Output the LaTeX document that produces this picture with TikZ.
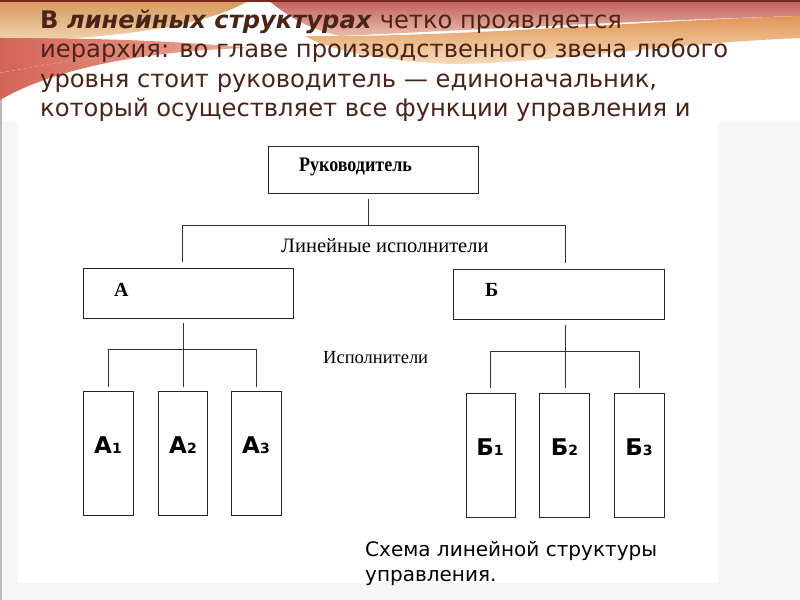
\documentclass[tikz,border=0pt]{standalone}
\usepackage{fontspec}
\setmainfont{DejaVu Sans}
\newfontfamily\serifF{Liberation Serif}
\newfontfamily\labF{DejaVu Sans}
\definecolor{titlec}{RGB}{75,36,24}
\definecolor{tanA}{RGB}{214,150,92}
\definecolor{tanB}{RGB}{242,214,178}
\definecolor{redA}{RGB}{212,100,88}
\definecolor{redB}{RGB}{236,170,150}
\definecolor{pinkA}{RGB}{192,92,92}
\definecolor{pinkB}{RGB}{236,190,170}
\definecolor{orA}{RGB}{226,150,88}
\definecolor{orB}{RGB}{246,218,186}
\definecolor{topline}{RGB}{120,40,28}
\definecolor{bgr}{RGB}{246,246,246}
\begin{document}
\begin{tikzpicture}[x=1bp,y=-1bp,
  box/.style={draw=black!85, line width=0.9bp, fill=white, inner sep=0pt},
  conn/.style={draw=black!80, line width=0.8bp},
  titletext/.style={anchor=base west, inner sep=0pt, text=titlec, font=\fontsize{24.2bp}{29bp}\selectfont},
  captext/.style={anchor=base west, inner sep=0pt, text=black, font=\fontsize{20bp}{25bp}\selectfont},
  boldser/.style={anchor=base west, inner sep=0pt, font=\serifF\bfseries\fontsize{18bp}{20bp}\selectfont},
  bigser/.style={anchor=base west, inner sep=0pt, font=\serifF\bfseries\fontsize{20bp}{22bp}\selectfont},
  regser/.style={anchor=base west, inner sep=0pt, font=\serifF\fontsize{18.5bp}{20bp}\selectfont},
  sublab/.style={anchor=base, inner sep=0pt, font=\labF\bfseries\fontsize{23bp}{24bp}\selectfont}
]
\useasboundingbox (0,0) rectangle (800,600);
% background
\fill[white] (0,0) rectangle (800,600);
\fill[bgr] (0,122) rectangle (800,600);
\fill[white] (18,122) rectangle (718,583);
\draw[gray!55, line width=1.5bp] (1,0) -- (1,600);
% decoration
\shade[top color=tanA, bottom color=tanB] (0,0) -- (250,0) .. controls (210,24) and (130,38) .. (0,42) -- cycle;
\shade[left color=redA, right color=redB] (0,38) .. controls (80,38) and (170,40) .. (250,48) .. controls (160,50) and (60,65) .. (0,100) -- cycle;
\draw[brown!60, line width=0.5bp, dashed] (0,73) .. controls (80,58) .. (240,47);
\shade[top color=pinkA, bottom color=pinkB] (268,0) -- (800,0) -- (800,16) .. controls (650,20) and (470,30) .. (340,36) .. controls (305,28) and (285,14) .. (268,0) -- cycle;
\shade[top color=orA, bottom color=orB] (305,36) .. controls (450,38) and (650,20) .. (800,16) -- (800,38) .. controls (660,44) and (540,64) .. (450,64) .. controls (370,60) and (325,48) .. (305,36) -- cycle;
\draw[topline, line width=2.5bp] (0,0.5) -- (800,0.5);
% title
\node[titletext] (t1) at (40,28.5) {\textbf{В \textit{линейных структурах}} четко проявляется};
\node[titletext] (t2) at (40,58) {иерархия: во главе производственного звена любого};
\node[titletext] (t3) at (40,87.5) {уровня стоит руководитель — единоначальник,};
\node[titletext] (t4) at (40,117) {который осуществляет все функции управления и};
% boxes
\node[box, minimum width=210bp, minimum height=47bp] (ruk) at (373,169.5) {};
\node[box, minimum width=210bp, minimum height=50bp] (A) at (188,293) {};
\node[box, minimum width=211bp, minimum height=50bp] (B) at (558.5,294) {};
\node[box, minimum width=50bp, minimum height=124bp] (A1) at (108,453) {};
\node[box, minimum width=49bp, minimum height=124bp] (A2) at (182.5,453) {};
\node[box, minimum width=50bp, minimum height=124bp] (A3) at (256,453) {};
\node[box, minimum width=49bp, minimum height=124bp] (B1) at (490.5,455) {};
\node[box, minimum width=50bp, minimum height=124bp] (B2) at (564,455) {};
\node[box, minimum width=50bp, minimum height=124bp] (B3) at (639,455) {};
% labels
\node[boldser, yscale=1.15] (lruk) at (299,172) {Руководитель};
\node[bigser] (lA) at (114,296) {А};
\node[bigser] (lB) at (485,296) {Б};
\node[regser, font=\serifF\fontsize{20.5bp}{22bp}\selectfont] (llin) at (281,252) {Линейные исполнители};
\node[regser] (lisp) at (323,363) {Исполнители};
\node[sublab] (lA1) at (108,453) {А{\fontsize{14bp}{14bp}\selectfont 1}};
\node[sublab] (lA2) at (183,453) {А{\fontsize{14bp}{14bp}\selectfont 2}};
\node[sublab] (lA3) at (256,453) {А{\fontsize{14bp}{14bp}\selectfont 3}};
\node[sublab] (lB1) at (490,455) {Б{\fontsize{14bp}{14bp}\selectfont 1}};
\node[sublab] (lB2) at (564.5,455) {Б{\fontsize{14bp}{14bp}\selectfont 2}};
\node[sublab] (lB3) at (639,455) {Б{\fontsize{14bp}{14bp}\selectfont 3}};
% connectors
\coordinate (j0) at (368,225);
\coordinate (hL) at (182,225);
\coordinate (hR) at (565,225);
\coordinate (ja) at (183,349);
\coordinate (jb) at (565,351);
\draw[conn] ([yshift=-6bp]ruk.south -| j0) -- (j0);
\draw[conn] (hL) -- (hR);
\draw[conn] (hL) -- ([yshift=6bp]hL |- A.north);
\draw[conn] (hR) -- ([yshift=6bp]hR |- B.north);
% A group
\draw[conn] ([yshift=-5bp]A.south -| ja) -- ([yshift=4bp]ja |- A2.north);
\draw[conn] (A1.north |- ja) -- (A3.north |- ja);
\draw[conn] (A1.north |- ja) -- ([yshift=4bp]A1.north);
\draw[conn] (A3.north |- ja) -- ([yshift=4bp]A3.north);
% B group
\draw[conn] ([yshift=-6bp]B.south -| jb) -- ([yshift=5bp]jb |- B2.north);
\draw[conn] (B1.north |- jb) -- (B3.north |- jb);
\draw[conn] (B1.north |- jb) -- ([yshift=5bp]B1.north);
\draw[conn] (B3.north |- jb) -- ([yshift=5bp]B3.north);
% caption
\node[captext] (c1) at (365,556) {Схема линейной структуры};
\node[captext] (c2) at (365,581) {управления.};
\end{tikzpicture}
\end{document}
